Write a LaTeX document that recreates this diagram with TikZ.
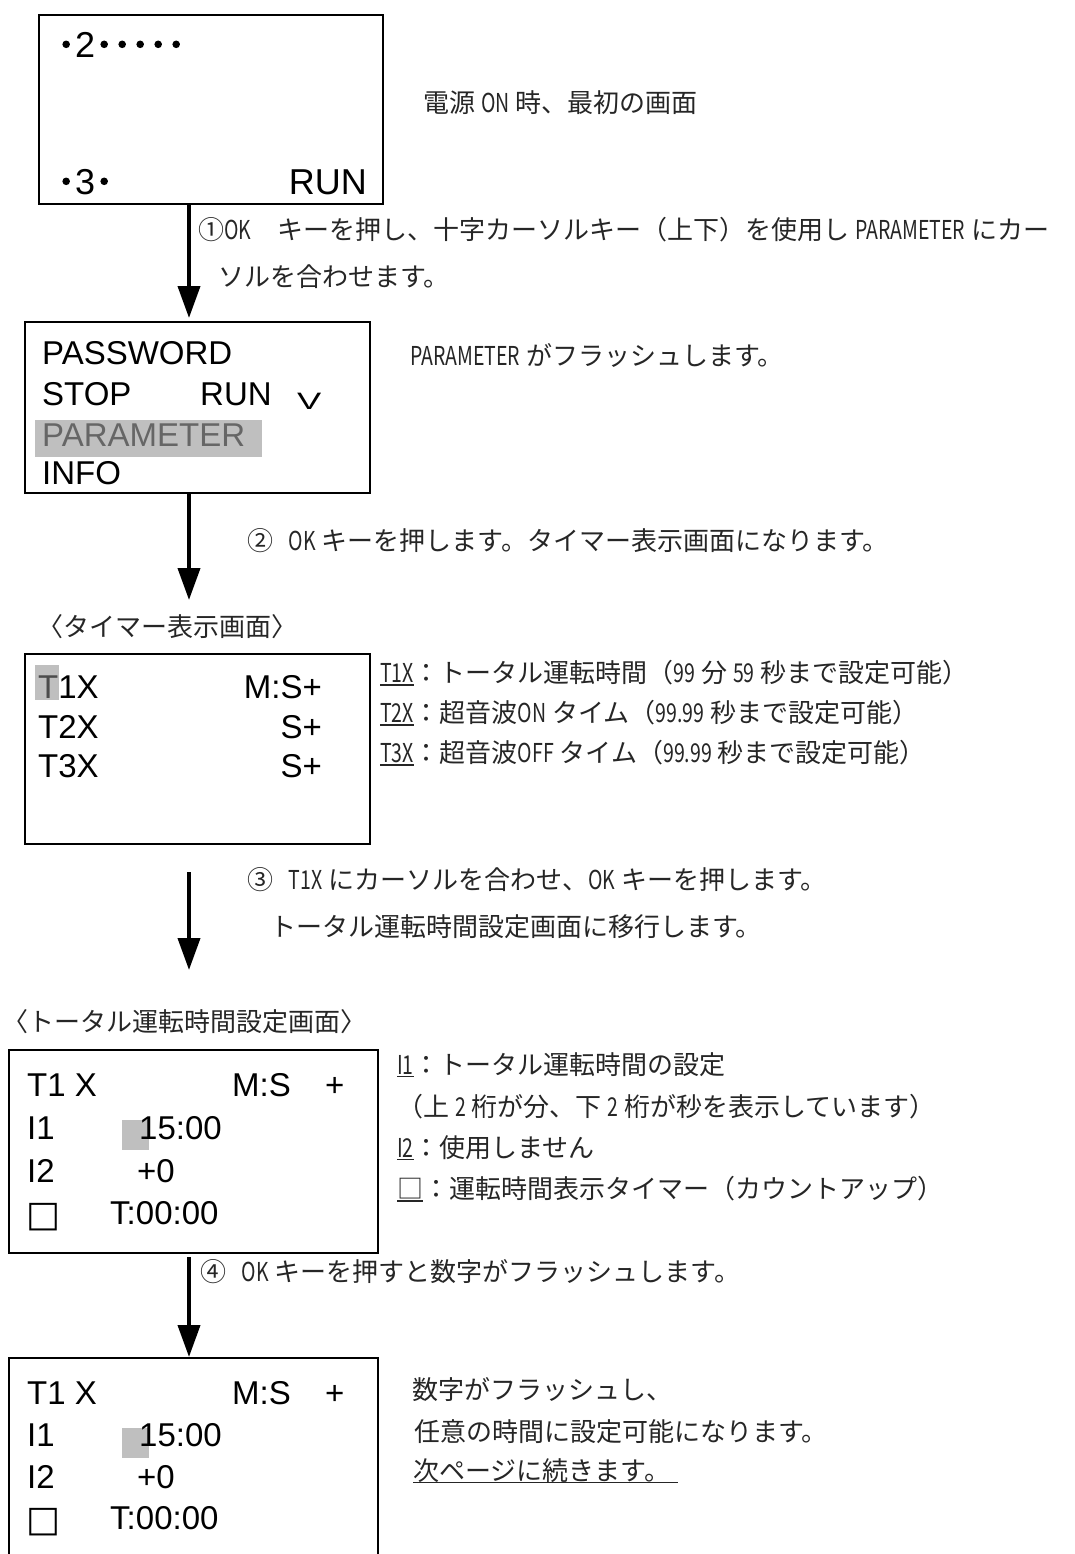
\documentclass[tikz,border=0pt]{standalone}
\usepackage{fontspec}
\usepackage{graphicx}
\setmainfont{Liberation Sans}
\newfontfamily\jp{Noto Sans CJK JP}
\newfontfamily\jpb[FakeBold=4]{Noto Sans CJK JP}
\newfontfamily\jpc[FakeStretch=0.75]{Noto Sans CJK JP}
\newfontfamily\dv{DejaVu Sans}
\usetikzlibrary{arrows.meta}
\newcommand\hw[1]{{\jpc #1}}
\newcommand\dt{{\jpb ･}}
\newcommand\ulx[1]{\setbox0\hbox{#1}\rlap{\rule[-3pt]{\wd0}{1.6pt}}\box0}
\tikzset{
  screen/.style={draw, line width=2pt, inner sep=0pt, anchor=north west},
  lcdA/.style={font=\fontsize{36}{40}\selectfont, inner sep=0pt, anchor=base west},
  lcd/.style={font=\fontsize{33}{38}\selectfont, inner sep=0pt, anchor=base west},
  note/.style={font=\jp\fontsize{26}{30}\selectfont, text=black!85, inner sep=0pt, anchor=west},
  arr/.style={line width=4pt, -{Triangle[width=22pt,length=32pt]}},
  hl/.style={fill=black!25, draw=none, inner sep=0pt, anchor=north west},
  sq/.style={font=\dv\fontsize{36}{40}\selectfont, inner sep=0pt, anchor=base west},
}
\begin{document}
\begin{tikzpicture}[x=1pt,y=-1pt]
\useasboundingbox (0,0) rectangle (1075,1554);
\clip (0,0) rectangle (1075,1554);
\coordinate (ax) at (189,0);

% screen 1
\node[screen, minimum width=344pt, minimum height=189pt] (b1) at (38,14) {};
\node[lcdA] (b1l1) at (57,58) {\dt2\dt\dt\dt\dt\dt};
\node[lcdA] (b1l2) at (57,195) {\dt3\dt};
\node[lcdA, anchor=base east] (b1r) at (367,195) {RUN};
\node[note] (n1) at (423,103) {電源 \hw{ON} 時、最初の画面};

% step 1
\node[note] (s1a) at (198,230) {①\hw{OK}　キーを押し、十字カーソルキー（上下）を使用し \hw{PARAMETER} にカー};
\node[note] (s1b) at (218,277) {ソルを合わせます。};

% screen 2
\node[screen, minimum width=345pt, minimum height=171pt] (b2) at (24,321) {};
\node[lcd] (b2l1) at (42,364) {PASSWORD};
\node[lcd] (b2l2) at (42,405) {STOP};
\node[lcd] (b2l2b) at (200,405) {RUN};
\node[lcd] (b2v) at (297,409) {\scalebox{1.1}[0.72]{V}};
\node[hl, minimum width=227pt, minimum height=37pt] (b2h) at (35,420) {};
\node[lcd, text=black!60] (b2l3) at (42,446) {PARAMETER};
\node[lcd] (b2l4) at (42,484) {INFO};
\node[note] (n2) at (410,355) {\hw{PARAMETER} がフラッシュします。};

\draw[arr, shorten >=3pt] (b1.south -| ax) -- (b2.north -| ax);

% step 2
\coordinate (e2) at (189,600);
\draw[arr] (b2.south -| e2) -- (e2);
\node[note] (s2) at (247,541) {②\hspace{0.6em}\hw{OK} キーを押します。タイマー表示画面になります。};

% screen 3
\node[note] (t3) at (37,627) {〈タイマー表示画面〉};
\node[screen, minimum width=345pt, minimum height=190pt] (b3) at (24,653) {};
\node[hl, minimum width=24pt, minimum height=35pt] (b3h) at (35,665) {};
\node[lcd] (b3l1) at (38,698) {\textcolor{black!70}{T}1X};
\node[lcd, anchor=base east] (b3r1) at (322,698) {M:S+};
\node[lcd] (b3l2) at (38,738) {T2X};
\node[lcd, anchor=base east] (b3r2) at (322,738) {S+};
\node[lcd] (b3l3) at (38,777) {T3X};
\node[lcd, anchor=base east] (b3r3) at (322,777) {S+};
\node[note] (n3a) at (380,673) {\ulx{\hw{T1X}}：トータル運転時間（\hw{99} 分 \hw{59} 秒まで設定可能）};
\node[note] (n3b) at (380,713) {\ulx{\hw{T2X}}：超音波\hw{ON} タイム（\hw{99.99} 秒まで設定可能）};
\node[note] (n3c) at (380,753) {\ulx{\hw{T3X}}：超音波\hw{OFF} タイム（\hw{99.99} 秒まで設定可能）};

% step 3
\coordinate (e3) at (189,970);
\draw[arr, shorten <=27pt] (b3.south -| e3) -- (e3);
\node[note] (s3a) at (247,880) {③\hspace{0.6em}\hw{T1X} にカーソルを合わせ、\hw{OK} キーを押します。};
\node[note] (s3b) at (270,927) {トータル運転時間設定画面に移行します。};

% screen 4
\node[note] (t4) at (2,1022) {〈トータル運転時間設定画面〉};
\node[screen, minimum width=369pt, minimum height=203pt] (b4) at (8,1049) {};
\node[lcd] (b4l1) at (27,1096) {T1 X};
\node[lcd] (b4m1) at (232,1096) {M:S};
\node[lcd] (b4p1) at (325,1096) {+};
\node[hl, minimum width=27pt, minimum height=30pt] (b4h) at (122,1120) {};
\node[lcd] (b4l2) at (27,1139) {I1};
\node[lcd] (b4v2) at (139,1139) {15:00};
\node[lcd] (b4l3) at (27,1182) {I2};
\node[lcd] (b4v3) at (137,1182) {+0};
\node[sq] (b4l4) at (26,1226) {□};
\node[lcd] (b4v4) at (110,1224) {T:00:00};
\node[note] (n4a) at (397,1065) {\ulx{\hw{I1}}：トータル運転時間の設定};
\node[note] (n4b) at (397,1107) {（上 \hw{2} 桁が分、下 \hw{2} 桁が秒を表示しています）};
\node[note] (n4c) at (397,1148) {\ulx{\hw{I2}}：使用しません};
\node[note] (n4d) at (397,1189) {\ulx{□}：運転時間表示タイマー（カウントアップ）};

% screen 5
\node[screen, minimum width=369pt, minimum height=260pt] (b5) at (8,1357) {};
\node[lcd] (b5l1) at (27,1404) {T1 X};
\node[lcd] (b5m1) at (232,1404) {M:S};
\node[lcd] (b5p1) at (325,1404) {+};
\node[hl, minimum width=27pt, minimum height=30pt] (b5h) at (122,1428) {};
\node[lcd] (b5l2) at (27,1446) {I1};
\node[lcd] (b5v2) at (139,1446) {15:00};
\node[lcd] (b5l3) at (27,1488) {I2};
\node[lcd] (b5v3) at (137,1488) {+0};
\node[sq] (b5l4) at (26,1531) {□};
\node[lcd] (b5v4) at (110,1529) {T:00:00};
\node[note] (n5a) at (412,1390) {数字がフラッシュし、};
\node[note] (n5b) at (414,1432) {任意の時間に設定可能になります。};
\node[note] (n5c) at (413,1471) {\ulx{次ページに続きます。\hspace{0.3em}}};

% step 4
\draw[arr, shorten <=3pt] (b4.south -| ax) -- (b5.north -| ax);
\node[note] (s4) at (200,1272) {④\hspace{0.6em}\hw{OK} キーを押すと数字がフラッシュします。};
\end{tikzpicture}
\end{document}
